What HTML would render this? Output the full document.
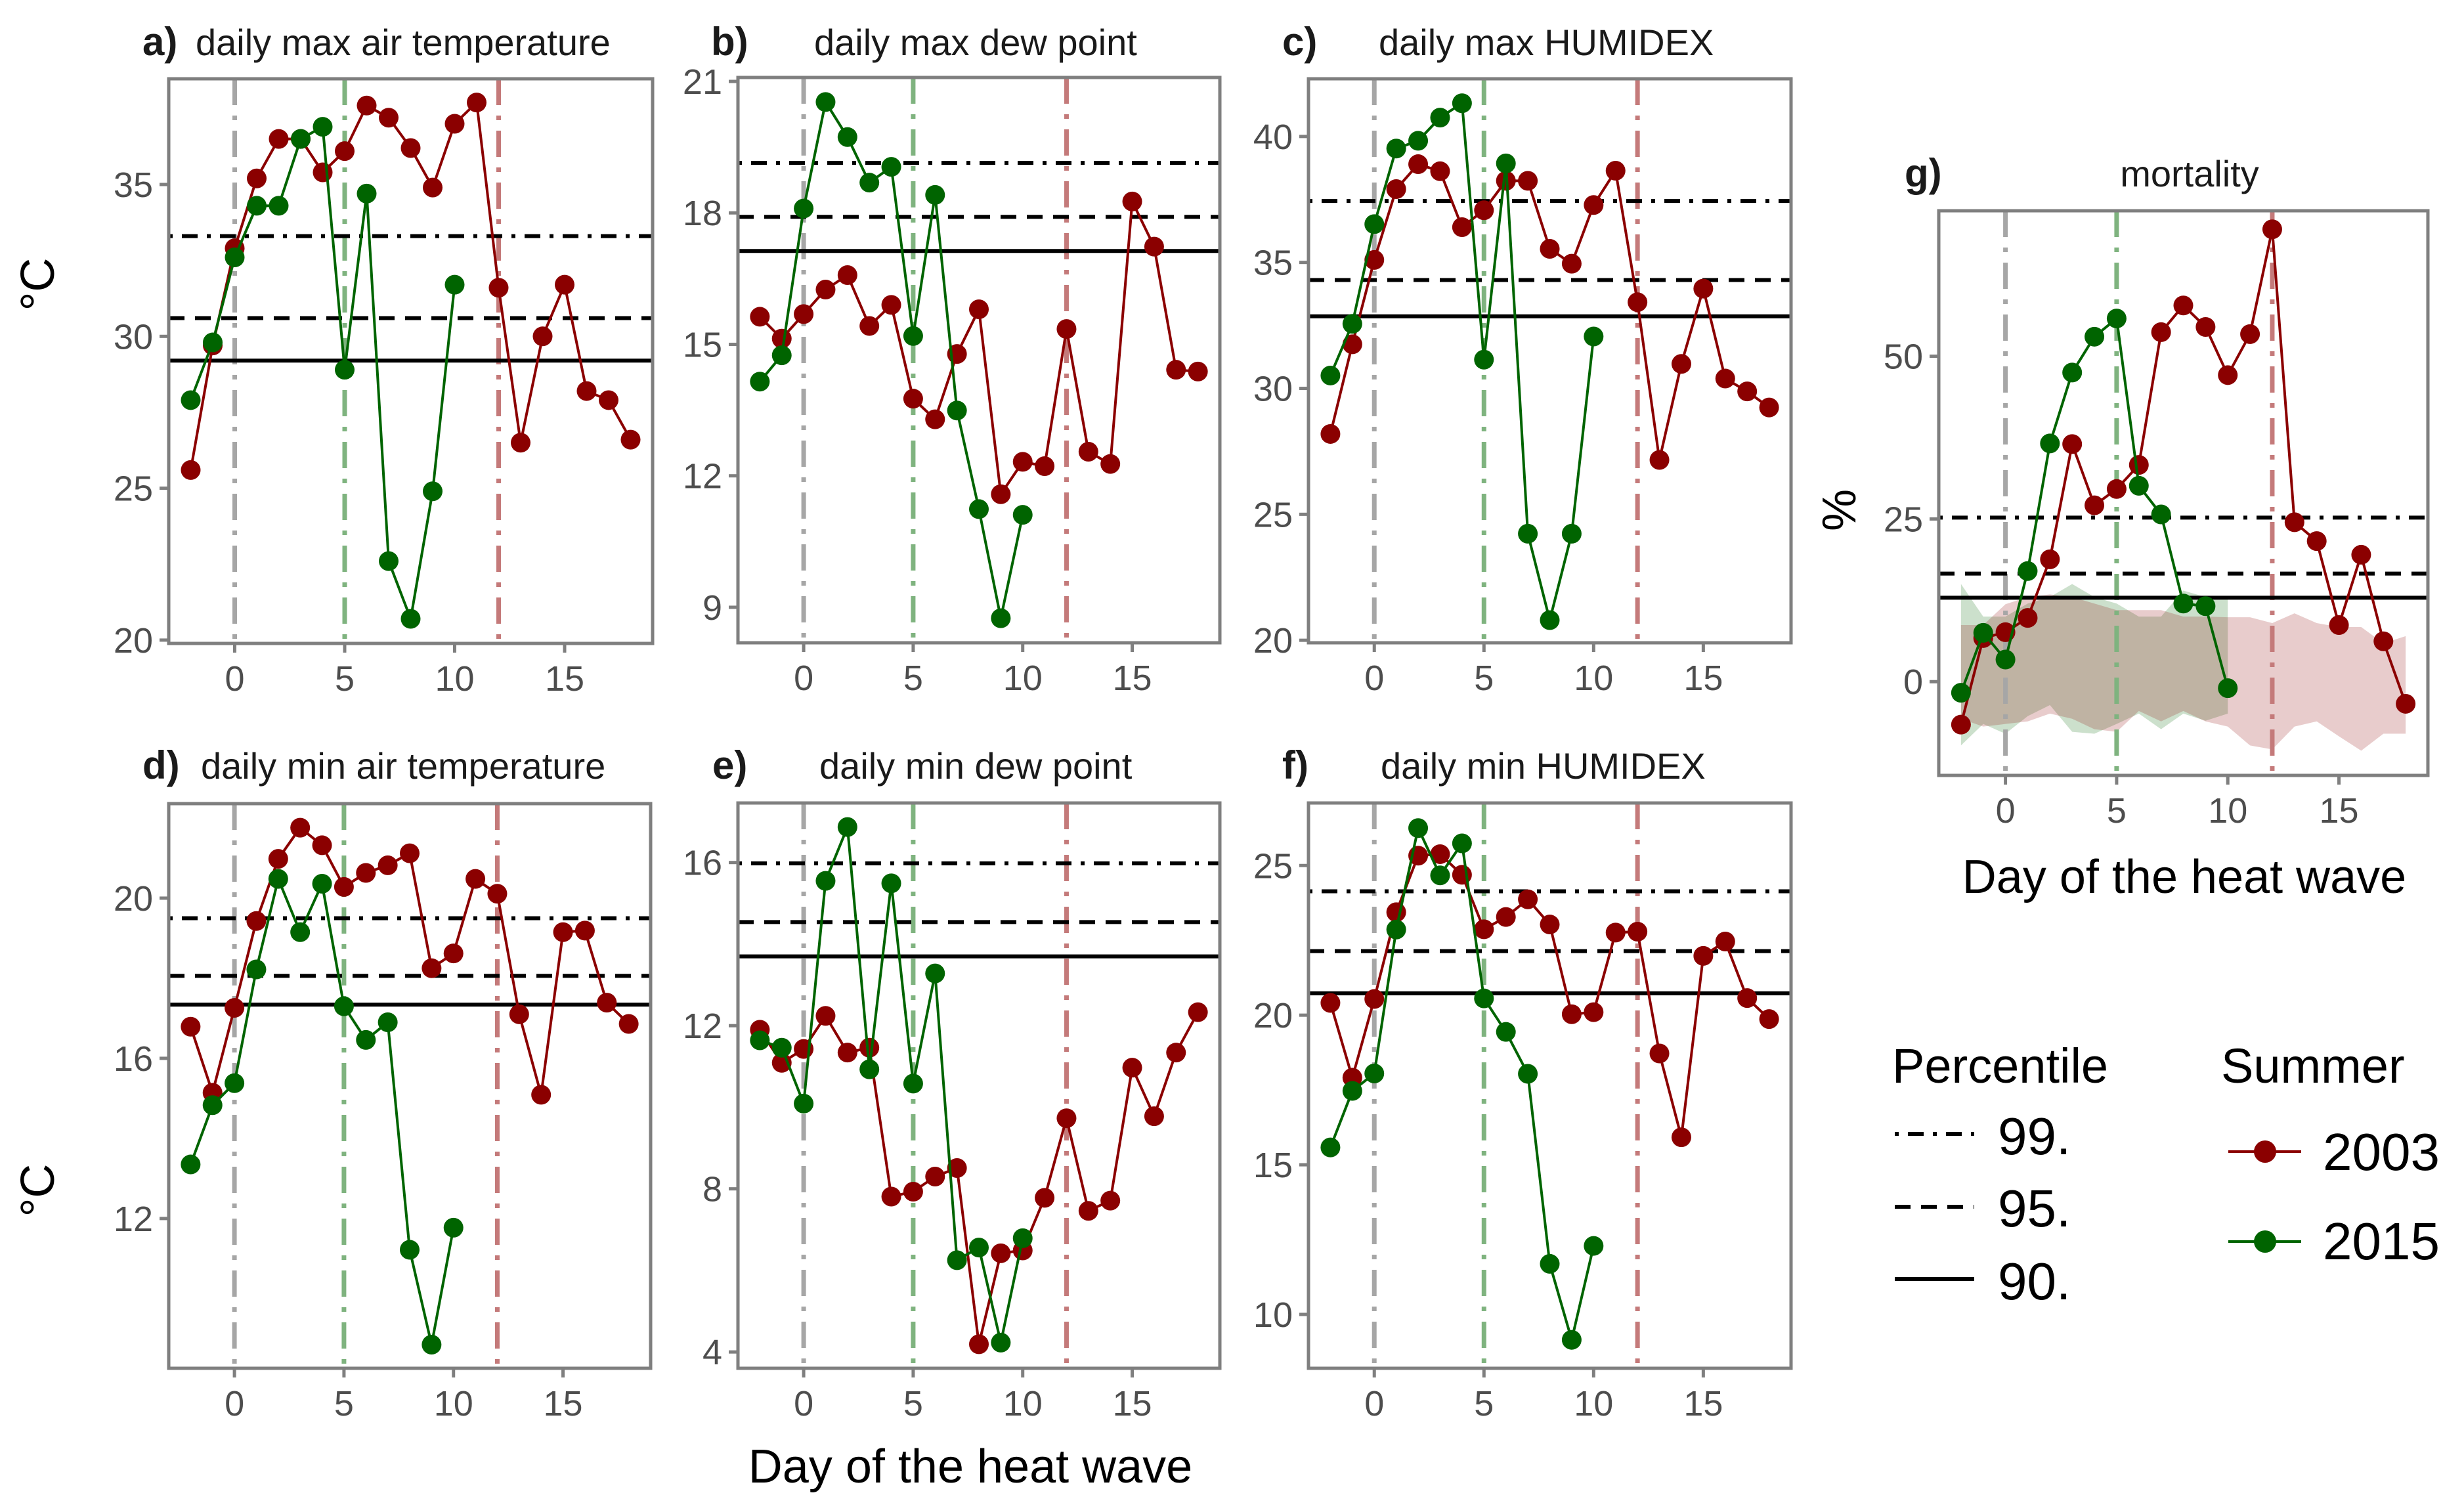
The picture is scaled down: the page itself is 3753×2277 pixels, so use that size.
<!DOCTYPE html>
<html><head><meta charset="utf-8">
<style>
html,body{margin:0;padding:0;background:#fff;}
svg{display:block;font-family:"Liberation Sans",sans-serif;}
</style></head>
<body>
<svg id="fig" width="3753" height="2277" viewBox="0 0 3753 2277" xmlns="http://www.w3.org/2000/svg">
<rect x="0" y="0" width="3753" height="2277" fill="#fff"/>
<g font-size="56" fill="#1a1a1a">
<text x="217" y="84" font-weight="bold" font-size="60">a)</text>
<text x="298" y="84">daily max air temperature</text>
<text x="1083" y="84" font-weight="bold" font-size="60">b)</text>
<text x="1240" y="84">daily max dew point</text>
<text x="1953" y="84" font-weight="bold" font-size="60">c)</text>
<text x="2100" y="84">daily max HUMIDEX</text>
<text x="217" y="1186" font-weight="bold" font-size="60">d)</text>
<text x="306" y="1186">daily min air temperature</text>
<text x="1085" y="1186" font-weight="bold" font-size="60">e)</text>
<text x="1248" y="1186">daily min dew point</text>
<text x="1953" y="1186" font-weight="bold" font-size="60">f)</text>
<text x="2103" y="1186">daily min HUMIDEX</text>
<text x="2901" y="284" font-weight="bold" font-size="60">g)</text>
<text x="3335" y="284" text-anchor="middle">mortality</text>
</g>
<g font-size="72" fill="#000">
<text transform="translate(82,433) rotate(-90)" text-anchor="middle">°C</text>
<text transform="translate(82,1813) rotate(-90)" text-anchor="middle">°C</text>
<text transform="translate(2826,777) rotate(-90)" text-anchor="middle">%</text>
<text x="1478" y="2258" text-anchor="middle">Day of the heat wave</text>
<text x="3327" y="1360" text-anchor="middle">Day of the heat wave</text>
</g>
<g fill="#000">
<text x="2882" y="1649" font-size="74">Percentile</text>
<line x1="2886" y1="1727" x2="3007" y2="1727" stroke="#000" stroke-width="6" stroke-dasharray="6,14,24,14"/>
<text x="3043" y="1758" font-size="80">99.</text>
<line x1="2886" y1="1838" x2="3007" y2="1838" stroke="#000" stroke-width="6" stroke-dasharray="24,16"/>
<text x="3043" y="1868" font-size="80">95.</text>
<line x1="2886" y1="1948" x2="3007" y2="1948" stroke="#000" stroke-width="6"/>
<text x="3043" y="1979" font-size="80">90.</text>
<text x="3383" y="1649" font-size="74">Summer</text>
<line x1="3394" y1="1754" x2="3505" y2="1754" stroke="#8b0000" stroke-width="4"/>
<circle cx="3450" cy="1754" r="17" fill="#8b0000"/>
<text x="3538" y="1782" font-size="80">2003</text>
<line x1="3394" y1="1891" x2="3505" y2="1891" stroke="#006400" stroke-width="4"/>
<circle cx="3450" cy="1891" r="17" fill="#006400"/>
<text x="3538" y="1918" font-size="80">2015</text>
</g>
</svg>
<script>
const days2003 = [-2,-1,0,1,2,3,4,5,6,7,8,9,10,11,12,13,14,15,16,17,18];
const days2015 = [-2,-1,0,1,2,3,4,5,6,7,8,9,10];
const xTicks = [0,5,10,15];
const eventDays = [0,5,12];

const aRed = [25.6,29.7,32.9,35.2,36.5,36.5,35.4,36.1,37.6,37.2,36.2,34.9,37.0,37.7,31.6,26.5,30.0,31.7,28.2,27.9,26.6];
const aGreen = [27.9,29.8,32.6,34.3,34.3,36.5,36.9,28.9,34.7,22.6,20.7,24.9,31.7];
const aPct = [33.3,30.6,29.2];
const aTicks = [20,25,30,35];

const bRed = [15.63,15.13,15.69,16.25,16.58,15.42,15.9,13.76,13.29,14.78,15.8,11.58,12.32,12.22,15.35,12.55,12.27,18.26,17.23,14.42,14.38];
const bGreen = [14.15,14.75,18.1,20.53,19.73,18.69,19.05,15.19,18.41,13.49,11.24,8.75,11.11];
const bPct = [19.14,17.91,17.13];
const bTicks = [9,12,15,18,21];

const cRed = [28.19,31.75,35.1,37.91,38.9,38.62,36.4,37.07,38.24,38.24,35.54,34.95,37.28,38.64,33.42,27.16,30.97,33.96,30.39,29.88,29.24];
const cGreen = [30.51,32.56,36.52,39.52,39.83,40.75,41.32,31.14,38.93,24.23,20.8,24.23,32.06];
const cPct = [37.44,34.3,32.86];
const cTicks = [20,25,30,35,40];

const dRed = [16.79,15.14,17.26,19.43,20.98,21.76,21.32,20.28,20.63,20.82,21.12,18.25,18.62,20.48,20.11,17.1,15.09,19.15,19.19,17.39,16.86];
const dGreen = [13.35,14.83,15.38,18.22,20.48,19.15,20.36,17.3,16.46,16.9,11.22,8.85,11.77];
const dPct = [19.5,18.06,17.34];
const dTicks = [12,16,20];

const eRed = [11.9,11.09,11.43,12.24,11.34,11.46,7.81,7.93,8.3,8.51,4.19,6.42,6.49,7.78,9.73,7.46,7.71,10.97,9.78,11.34,12.33];
const eGreen = [11.64,11.46,10.09,15.55,16.87,10.93,15.49,10.58,13.28,6.25,6.56,4.23,6.79];
const ePct = [15.98,14.54,13.7];
const eTicks = [4,8,12,16];

const fRed = [20.41,17.91,20.54,23.44,25.33,25.38,24.69,22.87,23.28,23.87,23.03,20.03,20.1,22.76,22.79,18.72,15.92,21.98,22.46,20.57,19.87];
const fGreen = [15.58,17.47,18.05,22.86,26.25,24.67,25.74,20.56,19.44,18.04,11.69,9.15,12.29];
const fPct = [24.14,22.14,20.73];
const fTicks = [10,15,20,25];

const gRed = [-6.6,6.7,7.6,9.8,18.8,36.5,27.1,29.6,33.3,53.7,57.8,54.5,47.1,53.4,69.5,24.5,21.6,8.7,19.5,6.2,-3.4];
const gGreen = [-1.7,7.5,3.4,17.0,36.6,47.5,53.0,55.8,30.1,25.7,12.0,11.6,-1.0];
const gPct = [25.2,16.6,12.9];
const gTicks = [0,25,50];
const gRedUpper = [8.7,8.7,11.9,13,13.4,13,12,11,11,11,10,10,9.9,9.9,9,10.5,9,8.4,8.4,5.9,7];
const gRedLower = [-5.7,-6.9,-6.5,-6.1,-4.9,-5.7,-7.3,-7.7,-4.5,-6.1,-4.5,-6.1,-6.9,-9.8,-10.4,-6.9,-6.1,-8.4,-10.6,-8,-8];
const gGreenUpper = [15,10,10,12,13,15,13,12,10,10,14,13,13];
const gGreenLower = [-9.8,-6.5,-8,-5.3,-3.6,-7.7,-8,-6.5,-4.9,-7.3,-4.9,-6,-4.9];

const NS = "http://www.w3.org/2000/svg";
const svg = document.getElementById('fig');
function mk(tag, attrs, parent){
  const el = document.createElementNS(NS, tag);
  for (const k in attrs) el.setAttribute(k, attrs[k]);
  (parent||svg).appendChild(el);
  return el;
}

const panels = [
  {id:'a', L:257, R:994, T:120, B:980, x0:-3, x1:19, y0:19.89, y1:38.48, red:aRed, green:aGreen, pct:aPct, ticks:aTicks},
  {id:'b', L:1124, R:1858, T:118, B:979, x0:-3, x1:19, y0:8.19, y1:21.09, red:bRed, green:bGreen, pct:bPct, ticks:bTicks},
  {id:'c', L:1993, R:2728, T:120, B:979, x0:-3, x1:19, y0:19.9, y1:42.29, red:cRed, green:cGreen, pct:cPct, ticks:cTicks},
  {id:'d', L:257, R:991, T:1224, B:2084, x0:-3, x1:19, y0:8.26, y1:22.36, red:dRed, green:dGreen, pct:dPct, ticks:dTicks},
  {id:'e', L:1124, R:1858, T:1223, B:2084, x0:-3, x1:19, y0:3.6, y1:17.46, red:eRed, green:eGreen, pct:ePct, ticks:eTicks},
  {id:'f', L:1993, R:2728, T:1223, B:2084, x0:-3, x1:19, y0:8.2, y1:27.09, red:fRed, green:fGreen, pct:fPct, ticks:fTicks},
  {id:'g', L:2953, R:3698, T:321, B:1181, x0:-3, x1:19, y0:-14.4, y1:72.35, red:gRed, green:gGreen, pct:gPct, ticks:gTicks, ribbon:true}
];
const vColors = ['#a6a6a6','#7fb37f','#c47a7a'];
const pctDash = ['6,14,24,14','24,16',''];
const pctNames = ['99','95','90'];

panels.forEach(p => {
  const sx = v => p.L + (v - p.x0) / (p.x1 - p.x0) * (p.R - p.L);
  const sy = v => p.B - (v - p.y0) / (p.y1 - p.y0) * (p.B - p.T);
  const g = mk('g', {});
  
  

  if (p.ribbon) {
    const rib = (days, up, lo, col, nm) => {
      let d = '';
      days.forEach((x,i)=>{ d += (i?'L':'M') + sx(x) + ',' + sy(up[i]); });
      for (let i = days.length-1; i>=0; i--) d += 'L' + sx(days[i]) + ',' + sy(lo[i]);
      const el = mk('path', {d: d+'Z', fill: col, 'fill-opacity': '0.2'}, g);
      
      
    };
    rib(days2015, gGreenUpper, gGreenLower, '#006400', 'ribbon-2015');
    rib(days2003, gRedUpper, gRedLower, '#8b0000', 'ribbon-2003');
  }

  eventDays.forEach((d,i)=>{
    const el = mk('line', {x1:sx(d), x2:sx(d), y1:p.T, y2:p.B, stroke:vColors[i], 'stroke-width':7, 'stroke-dasharray':'40,16,7,16'}, g);
    
    
  });

  p.pct.forEach((v,i)=>{
    const attrs = {x1:p.L, x2:p.R, y1:sy(v), y2:sy(v), stroke:'#000', 'stroke-width':6};
    if (pctDash[i]) attrs['stroke-dasharray'] = pctDash[i];
    const el = mk('line', attrs, g);
    
    
  });

  [[days2003, p.red, '#8b0000', '2003'], [days2015, p.green, '#006400', '2015']].forEach(s=>{
    const pts = s[0].map((x,i)=> sx(x) + ',' + sy(s[1][i])).join(' ');
    const pl = mk('polyline', {points:pts, fill:'none', stroke:s[2], 'stroke-width':4}, g);
    
    
    s[0].forEach((x,i)=>{
      const c = mk('circle', {cx:sx(x), cy:sy(s[1][i]), r:15, fill:s[2]}, g);
      
      
    });
  });

  const fr = mk('rect', {x:p.L, y:p.T, width:p.R-p.L, height:p.B-p.T, fill:'none', stroke:'#7f7f7f', 'stroke-width':5}, g);
  
  

  p.ticks.forEach(v=>{
    const y = sy(v);
    const t = mk('line', {x1:p.L-14, x2:p.L, y1:y, y2:y, stroke:'#7f7f7f', 'stroke-width':5}, g);
    
    
    const lb = mk('text', {x:p.L-24, y:y+19, 'text-anchor':'end', 'font-size':54, fill:'#4d4d4d'}, g);
    lb.textContent = v;
    
    
  });
  xTicks.forEach(v=>{
    const x = sx(v);
    const t = mk('line', {x1:x, x2:x, y1:p.B, y2:p.B+14, stroke:'#7f7f7f', 'stroke-width':5}, g);
    
    
    const lb = mk('text', {x:x, y:p.B+72, 'text-anchor':'middle', 'font-size':54, fill:'#4d4d4d'}, g);
    lb.textContent = v;
    
    
  });
});
</script>
</body></html>
